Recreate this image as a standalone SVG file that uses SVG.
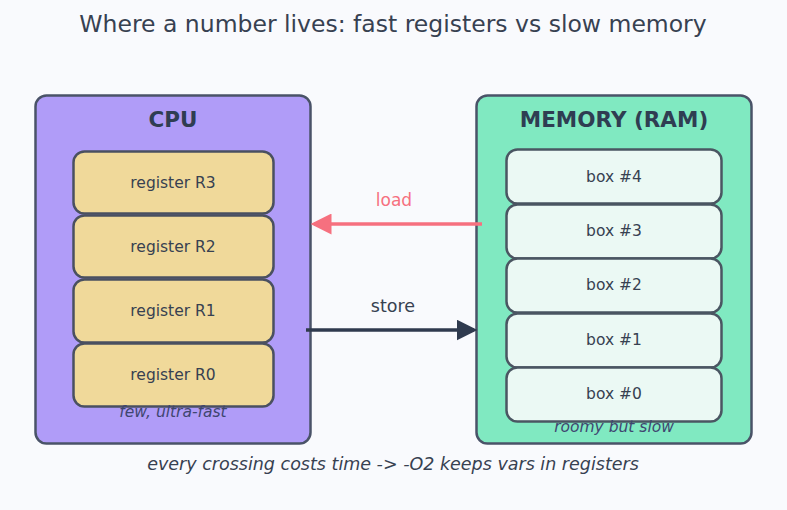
<svg xmlns="http://www.w3.org/2000/svg" width="787" height="510" viewBox="0 0 787 510">
<defs>
<style>
text{font-family:"DejaVu Sans","Liberation Sans",sans-serif;text-anchor:middle}
.panel{stroke:#4a5368;stroke-width:2.5}
.reg{fill:#f0d99a;stroke:#4a5060;stroke-width:2.5}
.box{fill:#ebf9f4;stroke:#4a5662;stroke-width:2.5}
.lbl{font-size:15.5px;fill:#374151}
.head{font-size:21.5px;font-weight:bold;fill:#2f3d52}
.note{font-size:15.5px;font-style:italic;fill:#3f4670}
</style>
<marker id="ahPink" markerWidth="6" markerHeight="6" refX="5" refY="3" orient="auto" markerUnits="strokeWidth"><path d="M0,0 L6,3 L0,6 z" fill="#f6707f"/></marker>
<marker id="ahDark" markerWidth="6" markerHeight="6" refX="5" refY="3" orient="auto" markerUnits="strokeWidth"><path d="M0,0 L6,3 L0,6 z" fill="#2f3a4e"/></marker>
</defs>
<rect width="787" height="510" fill="#f9fafd"/>
<text x="393" y="32" font-size="23.5" fill="#374151">Where a number lives: fast registers vs slow memory</text>
<g id="cpu">
<rect class="panel" x="35.5" y="95.5" width="275" height="348" rx="11" fill="#b09cf8"/>
<text class="head" x="173" y="127">CPU</text>
</g>
<g id="r3"><rect class="reg" x="73.5" y="151.5" width="200" height="62" rx="11"/><text class="lbl" x="173" y="188">register R3</text></g>
<g id="r2"><rect class="reg" x="73.5" y="215.5" width="200" height="62" rx="11"/><text class="lbl" x="173" y="252">register R2</text></g>
<g id="r1"><rect class="reg" x="73.5" y="279.5" width="200" height="63" rx="11"/><text class="lbl" x="173" y="316">register R1</text></g>
<g id="r0"><rect class="reg" x="73.5" y="343.5" width="200" height="63" rx="11"/><text class="lbl" x="173" y="380">register R0</text></g>
<text class="note" x="173" y="417">few, ultra-fast</text>
<g id="mem">
<rect class="panel" x="476.5" y="95.5" width="275" height="348" rx="11" fill="#80e9c1"/>
<text class="head" x="614" y="127">MEMORY (RAM)</text>
</g>
<g id="b4"><rect class="box" x="506.5" y="149.5" width="215" height="54" rx="11"/><text class="lbl" x="614" y="182">box #4</text></g>
<g id="b3"><rect class="box" x="506.5" y="204.5" width="215" height="54" rx="11"/><text class="lbl" x="614" y="236">box #3</text></g>
<g id="b2"><rect class="box" x="506.5" y="258.5" width="215" height="54" rx="11"/><text class="lbl" x="614" y="290">box #2</text></g>
<g id="b1"><rect class="box" x="506.5" y="313.5" width="215" height="54" rx="11"/><text class="lbl" x="614" y="345">box #1</text></g>
<g id="b0"><rect class="box" x="506.5" y="367.5" width="215" height="54" rx="11"/><text class="lbl" x="614" y="399">box #0</text></g>
<text class="note" x="614" y="432">roomy but slow</text>
<g id="connectors">
<line x1="482" y1="224" x2="314" y2="224" stroke="#f6707f" stroke-width="3.5" marker-end="url(#ahPink)"/>
<text x="394" y="206" font-size="17" fill="#f6707f">load</text>
<line x1="306" y1="330" x2="474" y2="330" stroke="#2f3a4e" stroke-width="3.5" marker-end="url(#ahDark)"/>
<text x="393" y="312" font-size="17.5" fill="#374151">store</text>
</g>
<text x="393" y="470" font-size="17.5" font-style="italic" fill="#374151">every crossing costs time -&gt; -O2 keeps vars in registers</text>
</svg>
